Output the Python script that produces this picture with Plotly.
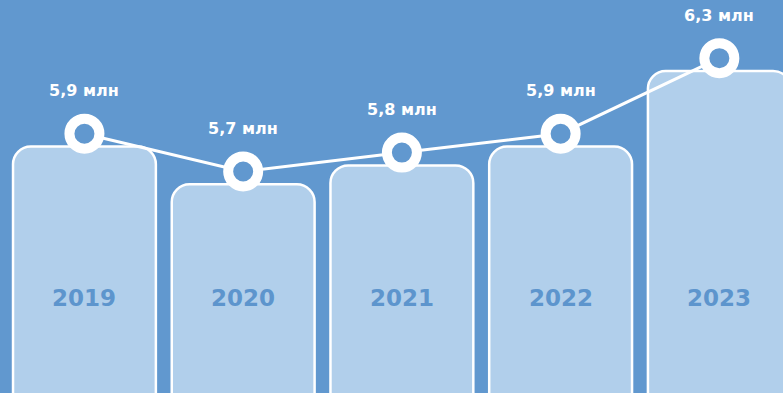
import plotly.graph_objects as go

years = ["2019", "2020", "2021", "2022", "2023"]
values = [5.9, 5.7, 5.8, 5.9, 6.3]
labels = ["5,9 млн", "5,7 млн", "5,8 млн", "5,9 млн", "6,3 млн"]

BG = "#6198cf"
BAR = "#b1cfeb"
YEAR_C = "#5d95cd"
FONT = "DejaVu Sans"

y_lo, y_hi = 4.595, 6.676
shift = 0.068

fig = go.Figure()
fig.add_trace(go.Bar(
    x=years, y=values, width=0.9,
    marker=dict(color=BAR, line=dict(color="white", width=2.5), cornerradius=18),
    hoverinfo="skip",
))
fig.add_trace(go.Scatter(
    x=years, y=values, yaxis="y2", mode="lines+markers",
    line=dict(color="white", width=3),
    marker=dict(size=30, color=BG, line=dict(color="white", width=10)),
    hoverinfo="skip",
))

for i, (v, lab) in enumerate(zip(values, labels)):
    fig.add_annotation(x=i, y=v, xref="x", yref="y2", text="<b>" + lab + "</b>", showarrow=False,
                       yshift=43, yanchor="middle", font=dict(family=FONT, size=16, color="white"))
    fig.add_annotation(x=i, y=0.242, xref="x", yref="paper", text="<b>" + years[i] + "</b>",
                       showarrow=False, yanchor="middle",
                       font=dict(family=FONT, size=23, color=YEAR_C))

fig.update_layout(
    width=783, height=393, margin=dict(l=0, r=0, t=0, b=0),
    paper_bgcolor=BG, plot_bgcolor=BG, showlegend=False,
    xaxis=dict(type="category", range=[-0.532, 4.401], visible=False),
    yaxis=dict(range=[y_lo, y_hi], visible=False),
    yaxis2=dict(range=[y_lo - shift, y_hi - shift], overlaying="y", visible=False),
    bargap=0,
)
fig.write_html("out.html", config={"staticPlot": True},
               post_script="document.body.style.margin='0';")
